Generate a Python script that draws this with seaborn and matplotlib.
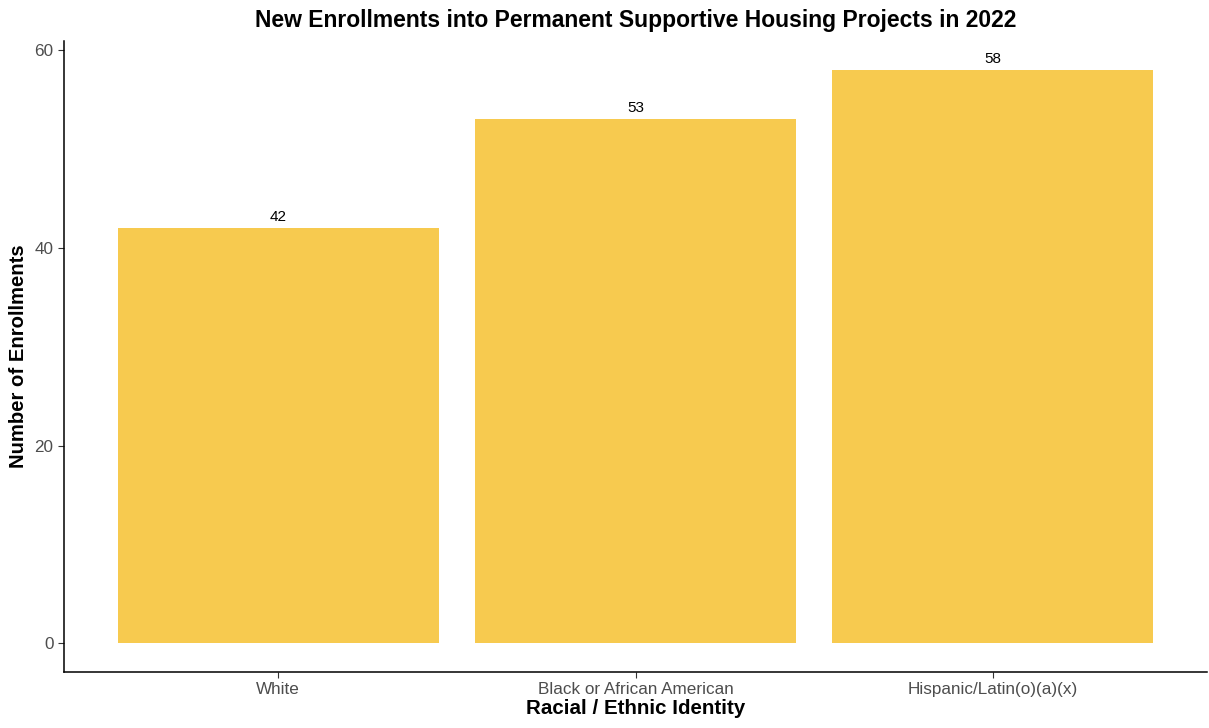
import pandas as pd
import seaborn as sns
import matplotlib.pyplot as plt

groups = ["White", "Black or African American", "Hispanic/Latin(o)(a)(x)"]
enrollments = [42, 53, 58]

df = pd.DataFrame({"group": groups, "enrollments": enrollments})

sns.set_style("ticks")
plt.rcParams['font.family'] = ['Liberation Sans', 'DejaVu Sans']

fig = plt.figure(figsize=(12.09, 7.28), dpi=100)
ax = fig.add_axes([64 / 1209, 56 / 728, 1143 / 1209, 631 / 728])

sns.barplot(data=df, x="group", y="enrollments", color="#F7CA4F",
            saturation=1, width=0.9, linewidth=0, ax=ax)

for i, v in enumerate(enrollments):
    ax.text(i, v + 0.4, str(v), ha="center", va="bottom", fontsize=11, color="black")

ax.set_xlim(-0.6, 2.6)
ax.set_ylim(-2.9, 60.9)
ax.set_yticks([0, 20, 40, 60])

ax.set_title("New Enrollments into Permanent Supportive Housing Projects in 2022",
             fontsize=16.5, fontweight="bold", pad=10, color="black")
ax.set_xlabel("Racial / Ethnic Identity", fontsize=14.8, fontweight="bold",
              labelpad=1, color="black")
ax.set_ylabel("Number of Enrollments", fontsize=14.6, fontweight="bold",
              labelpad=5, color="black")
ax.tick_params(axis="both", labelsize=12.3, labelcolor="#4D4D4D", color="#333333", length=4)

for side in ["top", "right"]:
    ax.spines[side].set_visible(False)
for side in ["left", "bottom"]:
    ax.spines[side].set_color("black")
    ax.spines[side].set_linewidth(1.1)

fig.savefig("out.png", dpi=100)
